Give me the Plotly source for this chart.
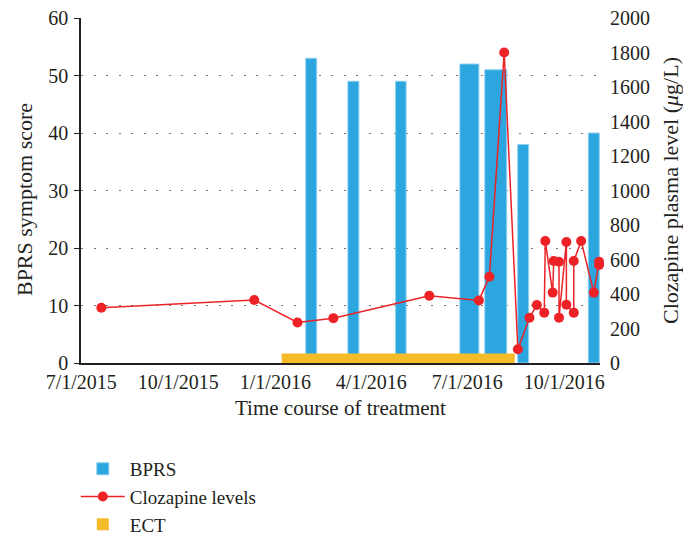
import plotly.graph_objects as go
import pandas as pd

# ---------------- data ----------------
bprs_dates = ["2016-02-04", "2016-03-15", "2016-04-29", "2016-07-03",
              "2016-07-28", "2016-08-23", "2016-10-29"]
bprs_scores = [53, 49, 49, 52, 51, 38, 40]

cloz_dates = ["2015-07-20", "2015-12-12", "2016-01-22", "2016-02-25",
              "2016-05-26", "2016-07-12", "2016-07-22", "2016-08-05",
              "2016-08-18", "2016-08-29", "2016-09-05", "2016-09-12",
              "2016-09-13", "2016-09-20", "2016-09-21", "2016-09-26",
              "2016-09-26", "2016-10-03", "2016-10-03", "2016-10-10",
              "2016-10-10", "2016-10-17", "2016-10-29", "2016-11-03",
              "2016-11-03"]
cloz_levels = [320, 365, 235, 260,
               390, 363, 500, 1800,
               80, 262, 336, 292,
               707, 408, 591, 587,
               263, 701, 338, 292,
               591, 707, 408, 568,
               587]

ect_start = "2016-01-07"
ect_end = "2016-08-15"
ect_value = 1.65

tick_dates = ["2015-07-01", "2015-10-01", "2016-01-01", "2016-04-01",
              "2016-07-01", "2016-10-01"]
tick_labels = ["7/1/2015", "10/1/2015", "1/1/2016", "4/1/2016",
               "7/1/2016", "10/1/2016"]

# ---------------- styles ----------------
DAY_MS = 86400000
bprs_width_days = [10.4, 10.4, 10.0, 18.0, 20.8, 10.4, 10.4]
BLUE = "#2ca6df"
RED = "#ed2227"
YELLOW = "#f5bc29"
FONT = "Liberation Serif"

ect_mid = pd.Timestamp(ect_start) + (pd.Timestamp(ect_end) - pd.Timestamp(ect_start)) / 2
ect_width = (pd.Timestamp(ect_end) - pd.Timestamp(ect_start)).total_seconds() * 1000

fig = go.Figure()

fig.add_trace(go.Bar(
    x=bprs_dates, y=bprs_scores, name="BPRS",
    width=[w * DAY_MS for w in bprs_width_days],
    marker=dict(color=BLUE, line=dict(color="#8fd0f0", width=1)),
    yaxis="y", legendrank=1,
))

fig.add_trace(go.Bar(
    x=[ect_mid], y=[ect_value], name="ECT", width=[ect_width],
    marker=dict(color=YELLOW, line=dict(width=0)),
    yaxis="y", legendrank=3,
))

fig.add_trace(go.Scatter(
    x=cloz_dates, y=cloz_levels, name="Clozapine levels",
    mode="lines+markers",
    line=dict(color=RED, width=1.5),
    marker=dict(color=RED, size=10),
    yaxis="y2", cliponaxis=False, legendrank=2,
))

fig.update_layout(
    width=683, height=535,
    margin=dict(l=81, r=83, t=18, b=172, autoexpand=False),
    paper_bgcolor="white", plot_bgcolor="white",
    font=dict(family=FONT, size=20, color="#231f20"),
    barmode="overlay",
    showlegend=True,
    legend=dict(
        x=-0.01, y=-0.252, xanchor="left", yanchor="top",
        orientation="v", font=dict(size=19, family=FONT),
        bgcolor="rgba(0,0,0,0)", itemwidth=44, tracegroupgap=0,
    ),
    xaxis=dict(
        type="date", automargin=False,
        range=["2015-06-30 17:00", "2016-11-03 21:00"],
        tickvals=tick_dates, ticktext=tick_labels,
        showgrid=False, zeroline=False,
        showline=True, linecolor="#231f20", linewidth=1.5,
        ticks="", tickfont=dict(size=20),
        title=dict(text="Time course of treatment", font=dict(size=21), standoff=9),
    ),
    yaxis=dict(
        automargin=False,
        range=[0, 60], tickvals=[0, 10, 20, 30, 40, 50, 60],
        showgrid=True, gridcolor="#777777", gridwidth=1.3,
        griddash="2px,10.5px",
        zeroline=False,
        showline=True, linecolor="#231f20", linewidth=1.5,
        ticks="outside", ticklen=5, tickwidth=1.3, tickcolor="#231f20",
        ticklabelstandoff=2,
        tickfont=dict(size=20),
    ),
    yaxis2=dict(
        automargin=False,
        range=[0, 2000], tickvals=list(range(0, 2001, 200)),
        overlaying="y", side="right",
        showgrid=False, zeroline=False, showline=False, ticks="",
        ticklabelstandoff=9,
        tickfont=dict(size=20),
        title=dict(text="Clozapine plasma level (<i>μ</i>g/L)", font=dict(size=22), standoff=13),
    ),
    annotations=[dict(
        text="BPRS symptom score", textangle=-90,
        xref="paper", yref="paper", x=-0.11, y=0.475,
        xanchor="center", yanchor="middle", showarrow=False,
        font=dict(size=22, family=FONT),
    )],
)

fig.write_html("out.html", config={"displayModeBar": False},
               post_script="document.body.style.margin='0';")
